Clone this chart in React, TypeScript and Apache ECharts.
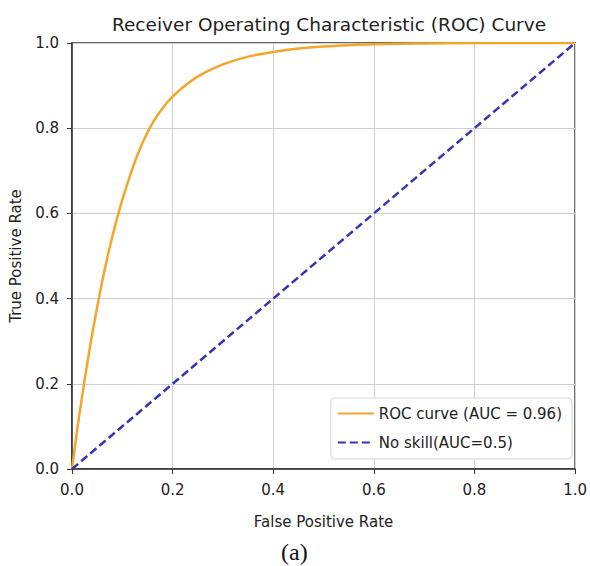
import React, { useEffect, useRef } from "react";
import * as echarts from "echarts";

const fpr = [0, 0.005, 0.01, 0.02, 0.03, 0.04, 0.05, 0.06, 0.07, 0.08, 0.09, 0.10, 0.12, 0.14, 0.16, 0.18, 0.20, 0.23, 0.26, 0.30, 0.35, 0.40, 0.45, 0.50, 0.55, 0.60, 0.70, 0.80, 0.90, 1.0];
const tpr = [0, 0.045, 0.09, 0.17, 0.245, 0.315, 0.38, 0.44, 0.495, 0.545, 0.59, 0.632, 0.705, 0.765, 0.812, 0.847, 0.874, 0.905, 0.928, 0.95, 0.968, 0.979, 0.987, 0.992, 0.995, 0.997, 0.999, 1.0, 1.0, 1.0];
const noSkillX = [0, 1];
const noSkillY = [0, 1];
const rocName = "ROC curve (AUC = 0.96)";
const noSkillName = "No skill(AUC=0.5)";
const titleText = "Receiver Operating Characteristic (ROC) Curve";
const xLabel = "False Positive Rate";
const yLabel = "True Positive Rate";
const caption = "(a)";

const FONT = "'DejaVu Sans', sans-serif";

export default function App() {
  const ref = useRef<HTMLDivElement>(null);
  useEffect(() => {
    if (!ref.current) return;
    const chart = echarts.init(ref.current, null, { renderer: "svg" });
    const axisCommon = {
      type: "value" as const,
      min: 0,
      max: 1,
      interval: 0.2,
      nameLocation: "middle" as const,
      nameTextStyle: { fontFamily: FONT, fontSize: 15, color: "#222" },
      axisLine: { show: true, lineStyle: { color: "#333", width: 1.5 } },
      axisTick: { show: true, inside: false, length: 5, lineStyle: { color: "#333", width: 1 } },
      axisLabel: {
        fontFamily: FONT,
        fontSize: 15,
        color: "#222",
        formatter: (v: number) => v.toFixed(1),
      },
      splitLine: { show: true, lineStyle: { color: "#cfcfcf", width: 1 } },
    };
    chart.setOption({
      animation: false,
      backgroundColor: "#fff",
      title: {
        text: titleText,
        left: 324,
        top: 10,
        textAlign: "center",
        textStyle: { fontFamily: FONT, fontSize: 18.5, fontWeight: "normal", color: "#222" },
      },
      grid: {
        left: 67,
        right: 12,
        top: 43,
        bottom: 97,
        show: true,
        borderColor: "#333",
        borderWidth: 1.5,
        backgroundColor: "transparent",
      },
      xAxis: {
        ...axisCommon,
        name: xLabel,
        nameGap: 45,
        axisLabel: { ...axisCommon.axisLabel, margin: 13 },
      },
      yAxis: {
        ...axisCommon,
        name: yLabel,
        nameGap: 49,
        axisLabel: { ...axisCommon.axisLabel, margin: 13 },
      },
      legend: {
        right: 18,
        bottom: 107,
        orient: "vertical",
        itemWidth: 36,
        itemHeight: 14,
        itemGap: 14,
        padding: [8, 10, 9, 6],
        backgroundColor: "#fff",
        borderColor: "#d5d5d5",
        borderWidth: 1,
        borderRadius: 4,
        itemStyle: { opacity: 0 },
        textStyle: { fontFamily: FONT, fontSize: 15, color: "#222" },
        data: [rocName, noSkillName],
      },
      graphic: [
        {
          type: "text",
          left: 297 - 16,
          top: 540,
          style: {
            text: caption,
            fontFamily: "'Liberation Serif', 'Times New Roman', serif",
            fontSize: 24,
            fill: "#111",
          },
        },
      ],
      series: [
        {
          name: rocName,
          type: "line",
          data: fpr.map((x, i) => [x, tpr[i]]),
          smooth: 0.3,
          symbol: "none",
          lineStyle: { color: "#f5a62a", width: 2.5 },
          itemStyle: { color: "#f5a62a" },
          z: 3,
        },
        {
          name: noSkillName,
          type: "line",
          data: noSkillX.map((x, i) => [x, noSkillY[i]]),
          symbol: "none",
          lineStyle: { color: "#3434b8", width: 2.5, type: [8, 4] },
          itemStyle: { color: "#3434b8" },
          z: 4,
        },
      ],
    });
    return () => chart.dispose();
  }, []);
  return (
    <div
      ref={ref}
      style={{ position: "absolute", left: 0, top: 0, width: 590, height: 566, background: "#fff" }}
    />
  );
}
